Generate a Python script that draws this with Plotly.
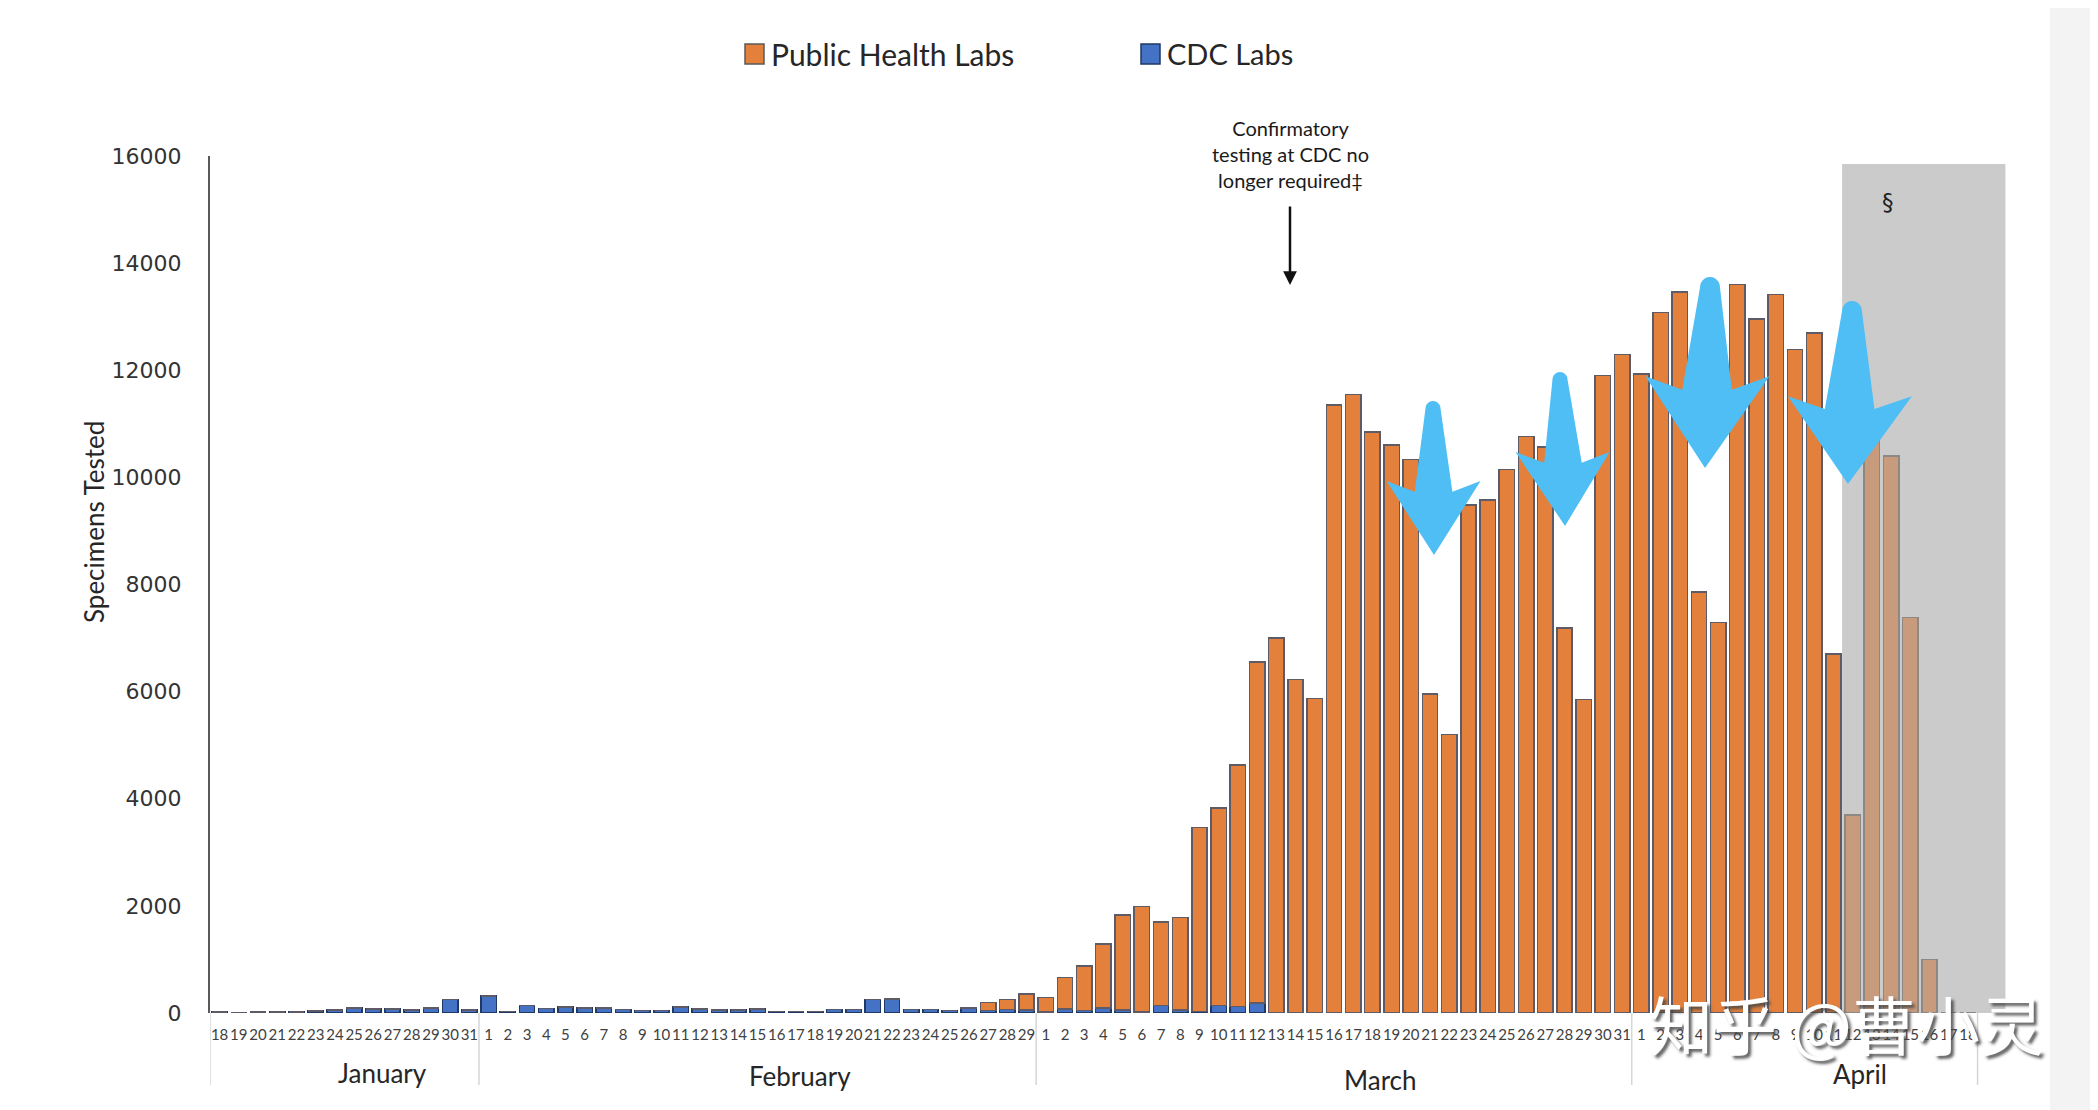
import math
import plotly.graph_objects as go

# ---------------- data ----------------
days_jan = [18, 19, 20, 21, 22, 23, 24, 25, 26, 27, 28, 29, 30, 31]
days_feb = [1, 2, 3, 4, 5, 6, 7, 8, 9, 10, 11, 12, 13, 14, 15, 16, 17, 18, 19, 20,
            21, 22, 23, 24, 25, 26, 27, 28, 29]
days_mar = [1, 2, 3, 4, 5, 6, 7, 8, 9, 10, 11, 12, 13, 14, 15, 16, 17, 18, 19, 20,
            21, 22, 23, 24, 25, 26, 27, 28, 29, 30, 31]
days_apr = [1, 2, 3, 4, 5, 6, 7, 8, 9, 10, 11, 12, 13, 14, 15, 16, 17, 18]
day_labels = [str(d) for d in days_jan + days_feb + days_mar + days_apr]
month_names = ["January", "February", "March", "April"]

cdc_jan = [20, 0, 20, 20, 20, 40, 60, 95, 75, 75, 55, 95, 255, 55]
cdc_feb = [320, 30, 140, 85, 110, 95, 95, 70, 50, 50, 110, 75, 55, 55, 75, 30, 30, 30,
           70, 70, 250, 265, 70, 70, 50, 90, 50, 70, 60]
cdc_mar = [20, 75, 45, 90, 60, 15, 140, 55, 25, 140, 125, 190, 0, 0, 0, 0, 0, 0, 0, 0,
           0, 0, 0, 0, 0, 10, 0, 10, 0, 0, 10]
cdc_apr = [0, 0, 0, 0, 0, 0, 0, 0, 10, 0, 0, 0, 0, 0, 0, 0, 0, 0]

phl_jan = [0, 0, 0, 0, 0, 0, 0, 0, 0, 0, 0, 0, 0, 0]
phl_feb = [0, 0, 0, 0, 0, 0, 0, 0, 0, 0, 0, 0, 0, 0, 0, 0, 0, 0, 0, 0, 0, 0, 0, 0, 0,
           15, 150, 185, 295]
phl_mar = [265, 585, 835, 1200, 1770, 1975, 1560, 1725, 3435, 3690, 4505, 6360, 7000,
           6225, 5875, 11350, 11550, 10850, 10600, 10330, 5960, 5200, 9480, 9580,
           10150, 10750, 10570, 7180, 5850, 11900, 12280]
phl_apr = [11930, 13080, 13460, 7860, 7290, 13600, 12960, 13410, 12380, 12700, 6700,
           3700, 10900, 10400, 7380, 1000, 0, 0]

cdc_labs = cdc_jan + cdc_feb + cdc_mar + cdc_apr
phl_labs = phl_jan + phl_feb + phl_mar + phl_apr
y_ticks = [0, 2000, 4000, 6000, 8000, 10000, 12000, 14000, 16000]

n = len(day_labels)
xs = list(range(n))
month_lengths = [len(days_jan), len(days_feb), len(days_mar), len(days_apr)]
first_partial = len(days_jan) + len(days_feb) + len(days_mar) + 11  # Apr 12 onward

# ---------------- layout geometry (screen pixels) ----------------
OFF = 8                      # default body margin of the html page
W, H = 2098 - OFF, 1110 - OFF
PL, PR, PT, PB = 210, 2016, 156, 1013   # plot area in screen pixels


def px(x):
    return (x - PL) / (PR - PL)


def py(y):
    return (PB - y) / (PB - PT)


ORANGE = "#E2803C"
ORANGE_LINE = "#5E5A66"
TAN = "#C79B7C"
TAN_LINE = "#8E8884"
BLUE = "#4472C4"
BLUE_LINE = "#1F3864"

phl_colors = [ORANGE if i < first_partial else TAN for i in xs]
phl_lines = [ORANGE_LINE if i < first_partial else TAN_LINE for i in xs]

fig = go.Figure()
fig.add_trace(go.Bar(
    x=xs, y=cdc_labs, name="CDC Labs",
    marker=dict(color=BLUE, line=dict(color=BLUE_LINE, width=1.5)),
    showlegend=False,
))
fig.add_trace(go.Bar(
    x=xs, y=phl_labs, name="Public Health Labs",
    marker=dict(color=phl_colors, line=dict(color=phl_lines, width=1.5)),
    showlegend=False,
))

shapes = []
annotations = []

# grey "§" region
shapes.append(dict(type="rect", xref="x", yref="y", x0=84.45, x1=92.95, y0=0, y1=15850,
                   fillcolor="#CBCBCB", line=dict(width=0), layer="below"))
# right page strip
shapes.append(dict(type="rect", xref="paper", yref="paper", x0=px(2050), x1=px(2120),
                   y0=py(1130), y1=py(-20), fillcolor="#F3F3F3", line=dict(width=0),
                   layer="below"))

# month separators
bounds = [-0.5]
for m in month_lengths:
    bounds.append(bounds[-1] + m)
for b in bounds:
    shapes.append(dict(type="line", xref="x", yref="paper", x0=b, x1=b, y0=0,
                       y1=py(1085), line=dict(color="#D6D6D6", width=1.5)))

# month labels
month_pos = [(382, 1073), (800, 1076), (1380, 1080), (1860, 1074)]
for name, (mx, my) in zip(month_names, month_pos):
    annotations.append(dict(text=name, xref="paper", yref="paper", x=px(mx), y=py(my),
                            showarrow=False, xanchor="center", yanchor="middle",
                            font=dict(family="Lato", size=26, color="#262626")))

# y-axis title
annotations.append(dict(text="Specimens Tested", xref="paper", yref="paper", x=px(94),
                        y=py(522), textangle=-90, showarrow=False, xanchor="center",
                        yanchor="middle",
                        font=dict(family="Lato", size=26, color="#262626")))

# legend (manual)
shapes.append(dict(type="rect", xref="paper", yref="paper", x0=px(745), x1=px(764),
                   y0=py(64), y1=py(44), fillcolor=ORANGE,
                   line=dict(color="#5A5A5A", width=1.5)))
shapes.append(dict(type="rect", xref="paper", yref="paper", x0=px(1141), x1=px(1160),
                   y0=py(64), y1=py(44), fillcolor=BLUE,
                   line=dict(color=BLUE_LINE, width=1.5)))
annotations.append(dict(text="Public Health Labs", xref="paper", yref="paper", x=px(769),
                        y=py(54), showarrow=False, xanchor="left", yanchor="middle",
                        font=dict(family="Lato", size=30, color="#262626")))
annotations.append(dict(text="CDC Labs", xref="paper", yref="paper", x=px(1165),
                        y=py(54), showarrow=False, xanchor="left", yanchor="middle",
                        font=dict(family="Lato", size=29, color="#262626")))

# confirmatory testing note + arrow
annotations.append(dict(text="Confirmatory<br>testing at CDC no<br>longer required‡",
                        xref="paper", yref="paper", x=px(1290), y=py(154),
                        showarrow=False, xanchor="center", yanchor="middle",
                        font=dict(family="Lato", size=20, color="#1a1a1a")))
annotations.append(dict(text="", xref="paper", yref="paper", x=px(1290), y=py(285),
                        ax=0, ay=-80, showarrow=True, arrowhead=2, arrowsize=1.1,
                        arrowwidth=2.5, arrowcolor="#111111"))

# section mark
annotations.append(dict(text="§", xref="paper", yref="paper", x=px(1896), y=py(187),
                        showarrow=False, font=dict(family="DejaVu Sans", size=23,
                                                    color="#222222")))


# blue arrows (overlay drawing)
def arrow_path(xt, yt, xp_, yp_, Wd):
    L = yp_ - yt

    def cx(f):
        return xt + f * (xp_ - xt)

    w0 = 0.16 * Wd
    fw, fn = 0.52, 0.59
    pts = []
    for k in range(0, 13):
        a = math.pi - k * math.pi / 12
        pts.append((cx(0) + w0 * math.cos(a), yt + w0 - w0 * math.sin(a)))
    pts.append((cx(fn) + 0.40 * Wd, yt + fn * L))
    pts.append((cx(fw) + Wd, yt + fw * L))
    pts.append((xp_, yp_))
    pts.append((cx(fw) - Wd, yt + fw * L))
    pts.append((cx(fn) - 0.40 * Wd, yt + fn * L))
    return "M " + " L ".join(f"{px(a):.5f},{py(b):.5f}" for a, b in pts) + " Z"


blue_arrows = [
    (1433, 401, 1434, 555, 47),
    (1560, 372, 1565, 526, 47),
    (1710, 277, 1705, 468, 62),
    (1852, 301, 1848, 484, 62),
]
for a in blue_arrows:
    shapes.append(dict(type="path", xref="paper", yref="paper", path=arrow_path(*a),
                       fillcolor="#4FBEF5", line=dict(width=0), layer="above"))

# watermark
annotations.append(dict(text="知乎 @曹小灵", xref="paper", yref="paper", x=px(1846),
                        y=py(1022), showarrow=False, xanchor="center", yanchor="middle",
                        font=dict(family="Noto Sans CJK SC", size=64, color="white",
                                  shadow="3px 3px 3px rgba(70,70,70,0.85)")))

fig.update_layout(
    width=W, height=H,
    margin=dict(l=PL - OFF, r=(W + OFF) - PR, t=PT - OFF, b=(H + OFF) - PB, pad=0),
    paper_bgcolor="white", plot_bgcolor="white",
    barmode="stack", bargap=0.2,
    showlegend=False,
    shapes=shapes, annotations=annotations,
    xaxis=dict(range=[-0.5, 93.5], tickmode="array", tickvals=xs, ticktext=day_labels,
               tickangle=0, ticks="", showline=False, showgrid=False, zeroline=False,
               tickfont=dict(family="Lato", size=15, color="#404040"),
               ticklabelstandoff=11),
    yaxis=dict(range=[0, 16000], tickmode="array", tickvals=y_ticks,
               ticktext=[str(v) for v in y_ticks], ticks="", showline=True,
               linecolor="#595959", linewidth=2, showgrid=False, zeroline=False,
               tickfont=dict(family="DejaVu Sans", size=22, color="#333333"),
               ticklabelstandoff=22),
)

fig.write_html("out.html")
